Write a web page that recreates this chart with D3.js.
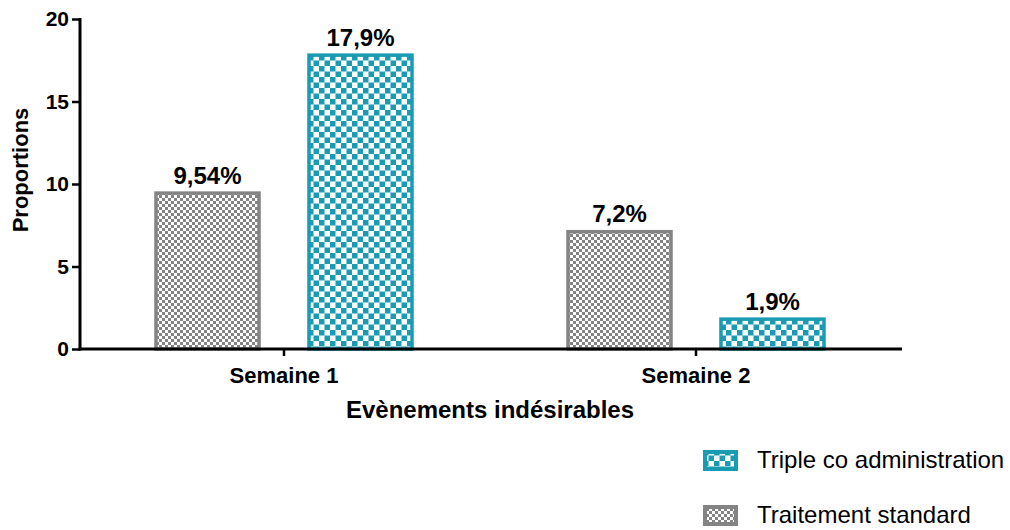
<!DOCTYPE html>
<html>
<head>
<meta charset="utf-8">
<script src="https://cdn.jsdelivr.net/npm/d3@7"></script>
<style>
  body { margin: 0; background: #fff; }
  text { font-family: "Liberation Sans", Arial, sans-serif; }
</style>
</head>
<body>
<script>
'use strict';

// data
var weeks = ['Semaine 1', 'Semaine 2'];
var groups = ['Traitement standard', 'Triple co administration'];
var standardValues = [9.54, 7.2];
var tripleValues = [17.9, 1.9];
var valueLabels = [['9,54%', '17,9%'], ['7,2%', '1,9%']];
var yTicks = [0, 5, 10, 15, 20];

var grey = '#848484';
var teal = '#1a9bb4';

var svg = d3.select('body').append('svg')
  .attr('width', 1010)
  .attr('height', 530);

// patterns
var defs = svg.append('defs');
var pg = defs.append('pattern')
  .attr('id', 'patGrey')
  .attr('patternUnits', 'userSpaceOnUse')
  .attr('width', 6).attr('height', 6);
pg.append('rect').attr('width', 6).attr('height', 6).attr('fill', '#fff');
pg.append('rect').attr('width', 3).attr('height', 3).attr('fill', grey);
pg.append('rect').attr('x', 3).attr('y', 3).attr('width', 3).attr('height', 3).attr('fill', grey);

var pt = defs.append('pattern')
  .attr('id', 'patTeal')
  .attr('patternUnits', 'userSpaceOnUse')
  .attr('width', 11).attr('height', 11);
pt.append('rect').attr('width', 11).attr('height', 11).attr('fill', '#fff');
pt.append('rect').attr('width', 5.5).attr('height', 5.5).attr('fill', teal);
pt.append('rect').attr('x', 5.5).attr('y', 5.5).attr('width', 5.5).attr('height', 5.5).attr('fill', teal);

// scales
var yScale = d3.scaleLinear()
  .domain([0, 20])
  .range([349, 19]);

var x0 = d3.scaleBand()
  .domain(weeks)
  .range([78, 902]);

var x1 = d3.scaleBand()
  .domain(groups)
  .range([0, 259])
  .paddingInner(0.307);

var rows = weeks.map(function(w, i){
  return [
    {week: w, group: groups[0], value: standardValues[i], label: valueLabels[i][0], fill: 'url(#patGrey)', stroke: grey},
    {week: w, group: groups[1], value: tripleValues[i], label: valueLabels[i][1], fill: 'url(#patTeal)', stroke: teal}
  ];
});
var bars = [].concat.apply([], rows);

function barX(d){
  return x0(d.week) + x0.bandwidth() / 2 - 129.5 + x1(d.group);
}

// bars
svg.selectAll('.bar')
    .data(bars)
  .enter().append('rect')
    .attr('class', 'bar')
    .attr('x', function(d){ return barX(d) + 1.5; })
    .attr('y', function(d){ return yScale(d.value) + 1.5; })
    .attr('width', x1.bandwidth() - 3)
    .attr('height', function(d){ return yScale(0) - yScale(d.value) - 1.5; })
    .attr('fill', function(d){ return d.fill; })
    .attr('stroke', function(d){ return d.stroke; })
    .attr('stroke-width', 3.5);

// value labels
svg.selectAll('.vlabel')
    .data(bars)
  .enter().append('text')
    .attr('class', 'vlabel')
    .attr('x', function(d){ return barX(d) + x1.bandwidth() / 2; })
    .attr('y', function(d){ return yScale(d.value) - 8; })
    .attr('text-anchor', 'middle')
    .attr('font-size', 24)
    .attr('font-weight', 'bold')
    .text(function(d){ return d.label; });

// y axis
var yAxis = svg.append('g')
  .attr('transform', 'translate(80,0)')
  .call(d3.axisLeft(yScale).tickValues(yTicks).tickSize(8).tickPadding(3).tickFormat(d3.format('d')));
yAxis.select('.domain').attr('stroke', '#000').attr('stroke-width', 3).attr('d', 'M0,' + (yScale(20) - 1) + 'V' + (yScale(0) + 1.5));
yAxis.selectAll('.tick line').attr('stroke', '#000').attr('stroke-width', 2.5);
yAxis.selectAll('.tick text')
  .attr('font-size', 21)
  .attr('font-weight', 'bold')
  .attr('fill', '#000');

// x axis
var xAxis = svg.append('g')
  .attr('transform', 'translate(0,' + yScale(0) + ')')
  .call(d3.axisBottom(x0).tickSize(7));
xAxis.select('.domain').attr('stroke', '#000').attr('stroke-width', 3).attr('d', 'M78.5,0H902');
xAxis.selectAll('.tick line').attr('stroke', '#000').attr('stroke-width', 2.5);
xAxis.selectAll('.tick text')
  .attr('y', 34)
  .attr('dy', null)
  .attr('font-size', 22)
  .attr('font-weight', 'bold')
  .attr('fill', '#000');

// axis titles
svg.append('text')
  .attr('x', 490)
  .attr('y', 418)
  .attr('text-anchor', 'middle')
  .attr('font-size', 24)
  .attr('font-weight', 'bold')
  .text('Evènements indésirables');

svg.append('text')
  .attr('transform', 'translate(28,170) rotate(-90)')
  .attr('text-anchor', 'middle')
  .attr('font-size', 22)
  .attr('font-weight', 'bold')
  .text('Proportions');

// legend
var legendItems = [
  {label: groups[1], fill: 'url(#patTeal)', stroke: teal},
  {label: groups[0], fill: 'url(#patGrey)', stroke: grey}
];
var legend = svg.selectAll('.legend')
    .data(legendItems)
  .enter().append('g')
    .attr('class', 'legend')
    .attr('transform', function(d, i){ return 'translate(703,' + (450 + i * 55) + ')'; });
legend.append('rect')
  .attr('x', 2).attr('y', 2)
  .attr('width', 31).attr('height', 17)
  .attr('fill', function(d){ return d.fill; })
  .attr('stroke', function(d){ return d.stroke; })
  .attr('stroke-width', 4);
legend.append('text')
  .attr('x', 54)
  .attr('y', 18)
  .attr('font-size', 24)
  .text(function(d){ return d.label; });
</script>
</body>
</html>
